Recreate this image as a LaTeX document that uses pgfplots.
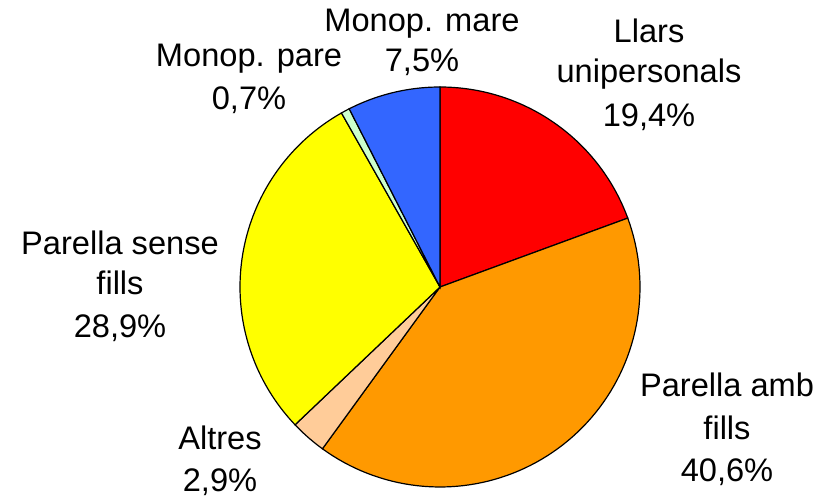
\documentclass[border=0pt]{standalone}
\usepackage{pgfplots}
\pgfplotsset{compat=1.18}
\usepackage{fontspec}
\setmainfont{Liberation Sans}

\definecolor{cRed}{HTML}{FF0000}
\definecolor{cOrange}{HTML}{FF9900}
\definecolor{cPeach}{HTML}{FFCC99}
\definecolor{cYellow}{HTML}{FFFF00}
\definecolor{cMint}{HTML}{CCFFCC}
\definecolor{cBlue}{HTML}{3366FF}

% pie geometry in picture units (1 unit = 0.5pt)
\def\cx{440}
\def\cy{211}
\def\rr{200}

% one slice: #1 colour, #2 cumulative % at start, #3 cumulative % at end
\newcommand\slice[3]{%
  \addplot[fill=#1, draw=black, line width=0.6pt, domain={90-3.6*#3}:{90-3.6*#2}, samples=80]
    ({\cx+\rr*cos(x)}, {\cy+\rr*sin(x)}) -- (axis cs:\cx,\cy) -- cycle;
}
\newcommand\lab[3]{\node[anchor=base, inner sep=0pt, font=\fontsize{16.3pt}{21pt}\selectfont] at (axis cs:#1,#2) {#3};}

\begin{document}
\begin{tikzpicture}
\begin{axis}[
  scale only axis,
  width=413pt, height=249pt,
  xmin=0, xmax=826, ymin=0, ymax=498,
  hide axis,
  clip=false,
]
\path (axis cs:0,0) rectangle (axis cs:826,498);

% shares (%): 19.4, 40.6, 2.9, 28.9, 0.7, 7.5
\slice{cRed}{0}{19.4}
\slice{cOrange}{19.4}{60.0}
\slice{cPeach}{60.0}{62.9}
\slice{cYellow}{62.9}{91.8}
\slice{cMint}{91.8}{92.5}
\slice{cBlue}{92.5}{100}

\lab{422}{466}{Monop. mare}
\lab{422}{426}{7,5\%}
\lab{249}{431}{Monop. pare}
\lab{249}{388}{0,7\%}
\lab{649}{455}{Llars}
\lab{649}{415}{unipersonals}
\lab{649}{371}{19,4\%}
\lab{120}{243}{Parella sense}
\lab{120}{203}{fills}
\lab{120}{160}{28,9\%}
\lab{220}{48}{Altres}
\lab{220}{6}{2,9\%}
\lab{727}{101}{Parella amb}
\lab{727}{58}{fills}
\lab{727}{16}{40,6\%}
\end{axis}
\end{tikzpicture}
\end{document}
